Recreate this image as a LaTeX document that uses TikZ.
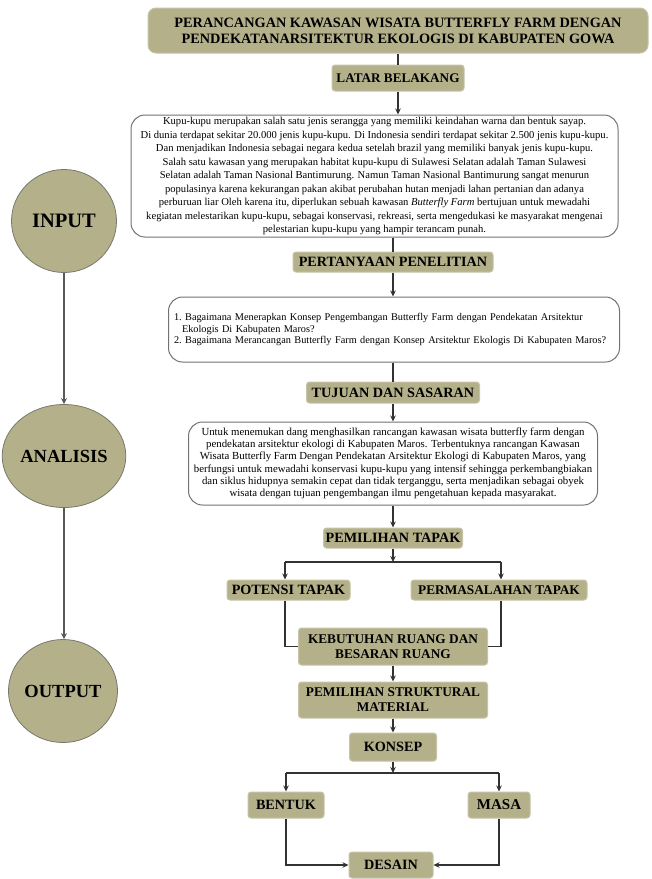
\documentclass[tikz,border=0pt]{standalone}
\usepackage{fontspec}
\setmainfont{Liberation Serif}
\usetikzlibrary{arrows.meta,shapes.geometric,calc}
\definecolor{khaki}{RGB}{180,177,138}
\definecolor{khakiedge}{RGB}{198,196,168}
\definecolor{boxline}{RGB}{115,115,115}
\definecolor{conn}{RGB}{50,50,50}
\definecolor{phaseline}{RGB}{120,120,110}
\begin{document}
\begin{tikzpicture}[x=1pt,y=-1pt,
 lab/.style={draw=khakiedge, line width=1pt, fill=khaki, rounded corners=3pt, inner sep=0pt, font=\bfseries\fontsize{14.2}{15}\selectfont, align=center},
 para/.style={draw=boxline, line width=1pt, fill=white, rounded corners=14pt, inner sep=0pt, font=\fontsize{10.6}{13.5}\selectfont, align=center},
 phase/.style={ellipse, draw=phaseline, line width=0.8pt, fill=khaki, inner sep=0pt, minimum width=105pt, minimum height=103pt, font=\bfseries\fontsize{18.5}{20}\selectfont},
 arr/.style={draw=conn, line width=1.3pt, -{Stealth[length=6pt,width=5.5pt]}},
 ln/.style={draw=conn, line width=1.3pt},
 parr/.style={draw=gray!70!black, line width=1.5pt, -{Stealth[length=6pt,width=6pt]}}
]
\useasboundingbox[fill=white] (0,0) rectangle (652,879);

% left phases
\node[phase, font=\bfseries\fontsize{20.5}{22}\selectfont] (input) at (64,221) {INPUT};
\node[phase] (analisis) at (64,456) {ANALISIS};
\node[phase] (output) at (63,691) {OUTPUT};
\draw[parr] (input.south) -- (input.south |- analisis.north);
\draw[parr] (analisis.south) -- (analisis.south |- output.north);

% main column
\node[lab, minimum width=500pt, minimum height=45pt, rounded corners=8pt, font=\bfseries\fontsize{14.3}{16}\selectfont] (title) at (398,30.5)
 {PERANCANGAN KAWASAN WISATA BUTTERFLY FARM DENGAN\\PENDEKATANARSITEKTUR EKOLOGIS DI KABUPATEN GOWA};
\node[lab, minimum width=132pt, minimum height=26pt, font=\bfseries\fontsize{13.2}{15}\selectfont] (latar) at (398,78) {LATAR BELAKANG};
\node[para, minimum width=487pt, minimum height=122pt] (box1) at (374.5,176)
 {Kupu-kupu merupakan salah satu jenis serangga yang memiliki keindahan warna dan bentuk sayap.\\
 Di dunia terdapat sekitar 20.000 jenis kupu-kupu. Di Indonesia sendiri terdapat sekitar 2.500 jenis kupu-kupu.\\
 Dan menjadikan Indonesia sebagai negara kedua setelah brazil yang memiliki banyak jenis kupu-kupu.\\
 Salah satu kawasan yang merupakan habitat kupu-kupu di Sulawesi Selatan adalah Taman Sulawesi\\
 Selatan adalah Taman Nasional Bantimurung. Namun Taman Nasional Bantimurung sangat menurun\\
 populasinya karena kekurangan pakan akibat perubahan hutan menjadi lahan pertanian dan adanya\\
 perburuan liar Oleh karena itu, diperlukan sebuah kawasan \textit{Butterfly Farm} bertujuan untuk mewadahi\\
 kegiatan melestarikan kupu-kupu, sebagai konservasi, rekreasi, serta mengedukasi ke masyarakat mengenai\\
 pelestarian kupu-kupu yang hampir terancam punah.};
\node[lab, minimum width=200pt, minimum height=20pt] (pert) at (393,262) {PERTANYAAN PENELITIAN};
\node[para, minimum width=451pt, minimum height=65pt, text width=440pt, align=left, font=\fontsize{10.3}{11.5}\selectfont] (box2) at (394,329.5)
 {1.\ Bagaimana Menerapkan Konsep Pengembangan Butterfly Farm dengan Pendekatan Arsitektur\\
 \hspace*{8pt}Ekologis Di Kabupaten Maros?\\
 2.\ Bagaimana Merancangan Butterfly Farm dengan Konsep Arsitektur Ekologis Di Kabupaten\ Maros?};
\node[lab, minimum width=173pt, minimum height=21pt] (tujuan) at (393,392.5) {TUJUAN DAN SASARAN};
\node[para, minimum width=409pt, minimum height=83pt, font=\fontsize{10.8}{12.3}\selectfont] (box3) at (393,463.5)
 {Untuk menemukan dang menghasilkan rancangan kawasan wisata butterfly farm dengan\\
 pendekatan arsitektur ekologi di Kabupaten Maros. Terbentuknya rancangan Kawasan\\
 Wisata Butterfly Farm Dengan Pendekatan Arsitektur Ekologi di Kabupaten Maros, yang\\
 berfungsi untuk mewadahi konservasi kupu-kupu yang intensif sehingga perkembangbiakan\\
 dan siklus hidupnya semakin cepat dan tidak terganggu, serta menjadikan sebagai obyek\\
 wisata dengan tujuan pengembangan ilmu pengetahuan kepada masyarakat.};
\node[lab, minimum width=139pt, minimum height=20pt] (pemtapak) at (393,538) {PEMILIHAN TAPAK};
\node[lab, minimum width=123pt, minimum height=20pt] (potensi) at (288.5,590) {POTENSI TAPAK};
\node[lab, minimum width=176pt, minimum height=20pt, font=\bfseries\fontsize{13.3}{15}\selectfont] (masalah) at (499,590) {PERMASALAHAN TAPAK};
\node[lab, minimum width=189pt, minimum height=37pt, font=\bfseries\fontsize{13.3}{15}\selectfont] (kebut) at (393,646.5) {KEBUTUHAN RUANG DAN\\BESARAN RUANG};
\node[lab, minimum width=189pt, minimum height=36pt, font=\bfseries\fontsize{13.3}{15}\selectfont] (strukt) at (393,700) {PEMILIHAN STRUKTURAL\\MATERIAL};
\node[lab, minimum width=87pt, minimum height=28pt] (konsep) at (393,747) {KONSEP};
\node[lab, minimum width=76pt, minimum height=26pt] (bentuk) at (286,805) {BENTUK};
\node[lab, minimum width=62pt, minimum height=26pt, font=\bfseries\fontsize{15}{15}\selectfont] (masa) at (499,805) {MASA};
\node[lab, minimum width=84pt, minimum height=26pt] (desain) at (391,865) {DESAIN};

% connectors
\draw[ln] (title.south) -- (latar.north);
\draw[arr] (latar.south) -- (latar.south |- box1.north);
\draw[ln] (pert.north |- box1.south) -- (pert.north);
\draw[arr] (pert.south) -- (pert.south |- box2.north);
\draw[ln] (tujuan.north |- box2.south) -- (tujuan.north);
\draw[arr] (tujuan.south) -- (box3.north);
\draw[arr] (box3.south) -- (pemtapak.north);
\coordinate (j1) at (393,562);
\coordinate (j1l) at (285,562);
\coordinate (j1r) at (501,562);
\draw[arr] (pemtapak.south) -- (j1);
\draw[ln] (j1l) -- (j1r);
\draw[arr] (j1l) -- (j1l |- potensi.north);
\draw[arr] (j1r) -- (j1r |- masalah.north);
\draw[ln] (j1l |- potensi.south) |- (kebut.west);
\draw[ln] (j1r |- masalah.south) |- (kebut.east);
\draw[arr] (kebut.south) -- (strukt.north);
\draw[arr] (strukt.south) -- (konsep.north);
\coordinate (j2) at (393,773);
\coordinate (j2l) at (286,773);
\coordinate (j2r) at (499,773);
\draw[arr] (konsep.south) -- (j2);
\draw[ln] (j2l) -- (j2r);
\draw[arr] (j2l) -- (bentuk.north);
\draw[arr] (j2r) -- (masa.north);
\draw[arr] (bentuk.south) |- (desain.west);
\draw[arr] (masa.south) |- (desain.east);
\end{tikzpicture}
\end{document}
